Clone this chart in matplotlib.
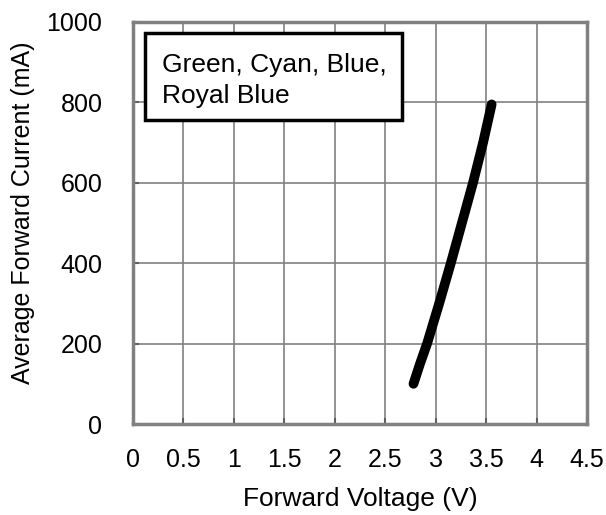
import matplotlib
matplotlib.use("Agg")
import matplotlib.pyplot as plt
from matplotlib.patches import Rectangle

plt.rcParams['font.family'] = ['Liberation Sans', 'DejaVu Sans']

voltage = [2.78, 2.845, 2.915, 3.035, 3.15, 3.26, 3.37, 3.47, 3.555]
current = [100, 150, 200, 300, 400, 500, 600, 700, 795]
x_ticks = [0, 0.5, 1, 1.5, 2, 2.5, 3, 3.5, 4, 4.5]
x_tick_labels = ['0', '0.5', '1', '1.5', '2', '2.5', '3', '3.5', '4', '4.5']
y_ticks = [0, 200, 400, 600, 800, 1000]
legend_lines = ["Green, Cyan, Blue,", "Royal Blue"]

W, H = 606, 515
fig = plt.figure(figsize=(W / 100, H / 100), dpi=100)
ax = fig.add_axes([133 / W, 1 - 424 / H, (587 - 133) / W, (424 - 22) / H])

ax.set_xlim(0, 4.5)
ax.set_ylim(0, 1000)
ax.set_xticks(x_ticks)
ax.set_xticklabels(x_tick_labels)
ax.set_yticks(y_ticks)
ax.grid(True, color='#808080', linewidth=1.2)
ax.set_axisbelow(True)
for s in ax.spines.values():
    s.set_color('#808080')
    s.set_linewidth(2.5)

ax.tick_params(axis='both', direction='in', length=4, width=1.5, color='#606060',
               labelsize=18)
ax.tick_params(axis='x', pad=17)
ax.tick_params(axis='y', pad=22)

ax.plot(voltage, current, color='black', linewidth=7, solid_capstyle='round',
        solid_joinstyle='round')

ax.set_xlabel('Forward Voltage (V)', fontsize=19, va='center')
ax.set_ylabel('Average Forward Current (mA)', fontsize=18, va='center')
ax.yaxis.set_label_coords(-0.242, 0.525)
ax.xaxis.set_label_coords(0.5, -0.1866)

# annotation box
bx0, by0, bx1, by1 = 145, 33, 402, 120
fig.patches.append(Rectangle((bx0 / W, 1 - by1 / H), (bx1 - bx0) / W, (by1 - by0) / H,
                             transform=fig.transFigure, facecolor='white',
                             edgecolor='black', linewidth=2.5, zorder=5))
for line, base in zip(legend_lines, [72, 103]):
    fig.text(162 / W, 1 - base / H, line, fontsize=19, va='baseline', ha='left',
             zorder=6)

fig.savefig('out.png', dpi=100)
